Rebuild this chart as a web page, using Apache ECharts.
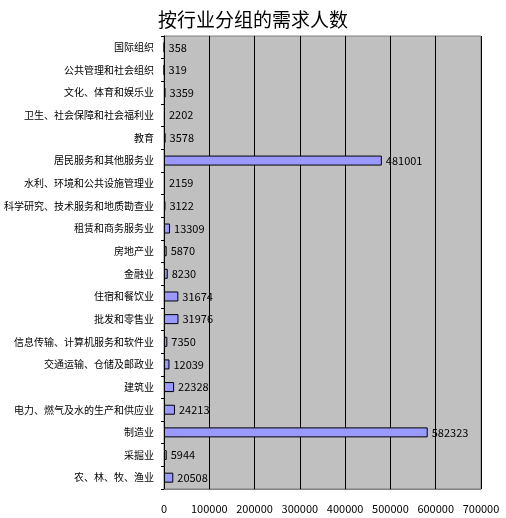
<!DOCTYPE html>
<html>
<head>
<meta charset="utf-8">
<script src="https://cdn.jsdelivr.net/npm/echarts@6/dist/echarts.min.js"></script>
<style>
  html, body { margin: 0; padding: 0; background: #fff; }
  #main { width: 506px; height: 518px; }
</style>
</head>
<body>
<div id="main"></div>
<script>
// 行业分类（从下到上）
var categories = [
  '农、林、牧、渔业', '采掘业', '制造业', '电力、燃气及水的生产和供应业', '建筑业',
  '交通运输、仓储及邮政业', '信息传输、计算机服务和软件业', '批发和零售业', '住宿和餐饮业', '金融业',
  '房地产业', '租赁和商务服务业', '科学研究、技术服务和地质勘查业', '水利、环境和公共设施管理业', '居民服务和其他服务业',
  '教育', '卫生、社会保障和社会福利业', '文化、体育和娱乐业', '公共管理和社会组织', '国际组织'
];
// 需求人数
var demand = [
  20508, 5944, 582323, 24213, 22328,
  12039, 7350, 31976, 31674, 8230,
  5870, 13309, 3122, 2159, 481001,
  3578, 2202, 3359, 319, 358
];

var chart = echarts.init(document.getElementById('main'));

var option = {
  animation: false,
  title: {
    text: '按行业分组的需求人数',
    left: 'center',
    top: 5,
    textStyle: { fontFamily: 'Noto Sans CJK SC', fontSize: 19, fontWeight: 'normal', color: '#000' }
  },
  grid: { left: 164, right: 25, top: 36, bottom: 29, backgroundColor: '#C0C0C0', show: true, borderColor: '#808080', borderWidth: 1 },
  xAxis: {
    type: 'value',
    min: 0,
    max: 700000,
    interval: 100000,
    axisLine: { show: true, lineStyle: { color: '#808080' } },
    axisTick: { show: false },
    axisLabel: { color: '#000', fontSize: 11, fontFamily: 'Noto Sans CJK SC', margin: 14, formatter: function (v) { return String(v); } },
    splitLine: { show: true, lineStyle: { color: '#000', width: 1 } }
  },
  yAxis: {
    type: 'category',
    data: categories,
    axisLine: { show: true, onZero: false, lineStyle: { color: '#000' } },
    axisTick: { show: true, length: 3, lineStyle: { color: '#000' } },
    axisLabel: { color: '#000', fontSize: 10, fontFamily: 'Noto Sans CJK SC', margin: 10 },
    splitLine: { show: false }
  },
  series: [{
    type: 'bar',
    data: demand,
    barWidth: 10,
    itemStyle: { color: '#9999FF', borderColor: '#000', borderWidth: 1 },
    label: {
      show: true,
      position: 'right',
      distance: 4,
      color: '#000',
      fontSize: 11,
      fontFamily: 'Noto Sans CJK SC'
    }
  }]
};

chart.setOption(option);
</script>
</body>
</html>
